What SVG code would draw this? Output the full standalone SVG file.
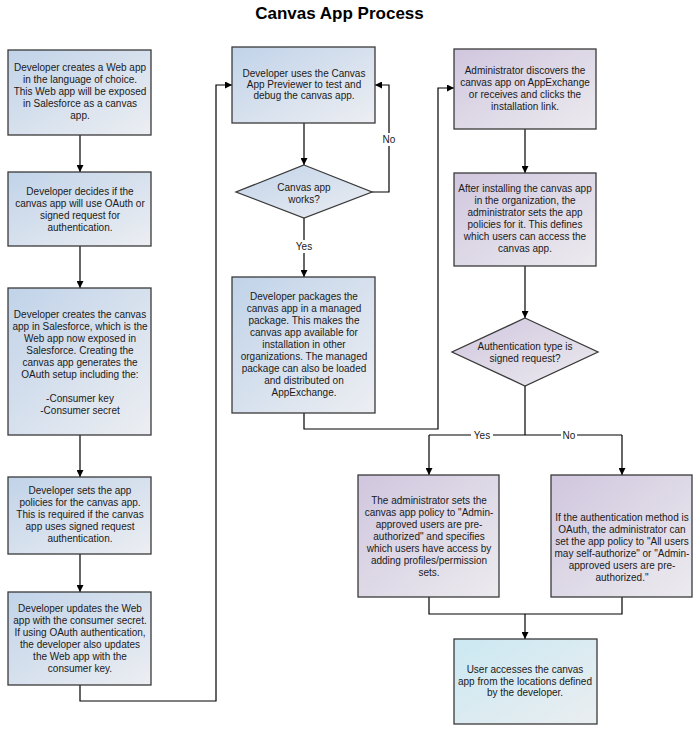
<svg xmlns="http://www.w3.org/2000/svg" width="700" height="733" viewBox="0 0 700 733">
<defs>
<linearGradient id="gBlue" x1="0" y1="0" x2="1" y2="1"><stop offset="0" stop-color="#c1d3e9"/><stop offset="1" stop-color="#eceef2"/></linearGradient>
<linearGradient id="gPurple" x1="0" y1="0" x2="1" y2="1"><stop offset="0" stop-color="#d0c6de"/><stop offset="1" stop-color="#ecebef"/></linearGradient>
<linearGradient id="gCyan" x1="0" y1="0" x2="1" y2="1"><stop offset="0" stop-color="#cbe8f2"/><stop offset="1" stop-color="#eaeef0"/></linearGradient>
<marker id="arr" viewBox="0 0 10 10" refX="10" refY="5" markerWidth="7" markerHeight="7" markerUnits="userSpaceOnUse" orient="auto"><path d="M0,0 L10,5 L0,10 Z" fill="#000"/></marker>
<style>
.b{stroke:#3a3a3a;stroke-width:1.3}
.blue{fill:url(#gBlue)}
.purple{fill:url(#gPurple)}
.cyan{fill:url(#gCyan)}
text{font-family:"Liberation Sans",Arial,sans-serif;font-size:10px;fill:#1a1a1a;text-anchor:middle}
.title{font-size:17px;font-weight:bold;fill:#000}
.c{fill:none;stroke:#000;stroke-width:1.2}
.lbl{fill:#fff}
</style>
</defs>
<rect width="700" height="733" fill="#fff"/>
<text class="title" x="339.5" y="19">Canvas App Process</text>

<g id="connectors">
<path class="c" d="M80,135 V172" marker-end="url(#arr)"/>
<path class="c" d="M80,246 V288" marker-end="url(#arr)"/>
<path class="c" d="M80,435 V477" marker-end="url(#arr)"/>
<path class="c" d="M80,554 V592" marker-end="url(#arr)"/>
<path class="c" d="M80,685 V701 H216 V85 H232" marker-end="url(#arr)"/>
<path class="c" d="M304,123 V165" marker-end="url(#arr)"/>
<path class="c" d="M372,192 H389 V85 H375" marker-end="url(#arr)"/>
<path class="c" d="M304,218 V277" marker-end="url(#arr)"/>
<path class="c" d="M304,413 V429 H438 V88 H454" marker-end="url(#arr)"/>
<path class="c" d="M525,129 V173" marker-end="url(#arr)"/>
<path class="c" d="M525,266 V318" marker-end="url(#arr)"/>
<path class="c" d="M525,386 V435"/>
<path class="c" d="M429,435 H622"/>
<path class="c" d="M429,435 V475" marker-end="url(#arr)"/>
<path class="c" d="M622,435 V475" marker-end="url(#arr)"/>
<path class="c" d="M429,597 V614 H622 V597"/>
<path class="c" d="M525,614 V639" marker-end="url(#arr)"/>
<rect class="lbl" x="381" y="133" width="16" height="13"/>
<text x="389" y="143">No</text>
<rect class="lbl" x="293" y="240" width="22" height="13"/>
<text x="304" y="250">Yes</text>
<rect class="lbl" x="471" y="429" width="22" height="12"/>
<text x="482" y="439">Yes</text>
<rect class="lbl" x="561" y="429" width="16" height="12"/>
<text x="569" y="439">No</text>
</g>

<g id="n1">
<rect class="b blue" x="8" y="50" width="143" height="85"/>
<text x="80" y="71"><tspan x="80">Developer creates a Web app</tspan><tspan x="80" dy="12">in the language of choice.</tspan><tspan x="80" dy="12">This Web app will be exposed</tspan><tspan x="80" dy="12">in Salesforce as a canvas</tspan><tspan x="80" dy="12">app.</tspan></text>
</g>
<g id="n2">
<rect class="b blue" x="8" y="172" width="143" height="74"/>
<text x="80" y="194.5"><tspan x="80">Developer decides if the</tspan><tspan x="80" dy="12">canvas app will use OAuth or</tspan><tspan x="80" dy="12">signed request for</tspan><tspan x="80" dy="12">authentication.</tspan></text>
</g>
<g id="n3">
<rect class="b blue" x="8" y="288" width="143" height="147"/>
<text x="80" y="317.7"><tspan x="80">Developer creates the canvas</tspan><tspan x="80" dy="12">app in Salesforce, which is the</tspan><tspan x="80" dy="12">Web app now exposed in</tspan><tspan x="80" dy="12">Salesforce. Creating the</tspan><tspan x="80" dy="12">canvas app generates the</tspan><tspan x="80" dy="12">OAuth setup including the:</tspan><tspan x="80" dy="24">-Consumer key</tspan><tspan x="80" dy="12">-Consumer secret</tspan></text>
</g>
<g id="n4">
<rect class="b blue" x="8" y="477" width="143" height="77"/>
<text x="80" y="494"><tspan x="80">Developer sets the app</tspan><tspan x="80" dy="12">policies for the canvas app.</tspan><tspan x="80" dy="12">This is required if the canvas</tspan><tspan x="80" dy="12">app uses signed request</tspan><tspan x="80" dy="12">authentication.</tspan></text>
</g>
<g id="n5">
<rect class="b blue" x="8" y="592" width="143" height="93"/>
<text x="80" y="612.3"><tspan x="80">Developer updates the Web</tspan><tspan x="80" dy="12">app with the consumer secret.</tspan><tspan x="80" dy="12">If using OAuth authentication,</tspan><tspan x="80" dy="12">the developer also updates</tspan><tspan x="80" dy="12">the Web app with the</tspan><tspan x="80" dy="12">consumer key.</tspan></text>
</g>
<g id="n6">
<rect class="b blue" x="232" y="47" width="143" height="76"/>
<text x="304" y="77"><tspan x="304">Developer uses the Canvas</tspan><tspan x="304" dy="11">App Previewer to test and</tspan><tspan x="304" dy="11">debug the canvas app.</tspan></text>
</g>
<g id="d1">
<polygon class="b blue" points="304,165 372,192 304,218 236,192"/>
<text x="304" y="190.5"><tspan x="304">Canvas app</tspan><tspan x="304" dy="12">works?</tspan></text>
</g>
<g id="n7">
<rect class="b blue" x="232" y="277" width="143" height="136"/>
<text x="304" y="300"><tspan x="304">Developer packages the</tspan><tspan x="304" dy="12">canvas app in a managed</tspan><tspan x="304" dy="12">package. This makes the</tspan><tspan x="304" dy="12">canvas app available for</tspan><tspan x="304" dy="12">installation in other</tspan><tspan x="304" dy="12">organizations. The managed</tspan><tspan x="304" dy="12">package can also be loaded</tspan><tspan x="304" dy="12">and distributed on</tspan><tspan x="304" dy="12">AppExchange.</tspan></text>
</g>
<g id="n8">
<rect class="b purple" x="454" y="49" width="142" height="80"/>
<text x="525" y="74"><tspan x="525">Administrator discovers the</tspan><tspan x="525" dy="12">canvas app on AppExchange</tspan><tspan x="525" dy="12">or receives and clicks the</tspan><tspan x="525" dy="12">installation link.</tspan></text>
</g>
<g id="n9">
<rect class="b purple" x="454" y="173" width="142" height="93"/>
<text x="525" y="192.3"><tspan x="525">After installing the canvas app</tspan><tspan x="525" dy="12">in the organization, the</tspan><tspan x="525" dy="12">administrator sets the app</tspan><tspan x="525" dy="12">policies for it. This defines</tspan><tspan x="525" dy="12">which users can access the</tspan><tspan x="525" dy="12">canvas app.</tspan></text>
</g>
<g id="d2">
<polygon class="b purple" points="525,318 598,352 525,386 452,352"/>
<text x="525" y="350"><tspan x="525">Authentication type is</tspan><tspan x="525" dy="12">signed request?</tspan></text>
</g>
<g id="n10">
<rect class="b purple" x="358" y="475" width="141" height="122"/>
<text x="429" y="503.5"><tspan x="429">The administrator sets the</tspan><tspan x="429" dy="12">canvas app policy to "Admin-</tspan><tspan x="429" dy="12">approved users are pre-</tspan><tspan x="429" dy="12">authorized" and specifies</tspan><tspan x="429" dy="12">which users have access by</tspan><tspan x="429" dy="12">adding profiles/permission</tspan><tspan x="429" dy="12">sets.</tspan></text>
</g>
<g id="n11">
<rect class="b purple" x="551" y="475" width="141" height="122"/>
<text x="622" y="521"><tspan x="622">If the authentication method is</tspan><tspan x="622" dy="12">OAuth, the administrator can</tspan><tspan x="622" dy="12">set the app policy to "All users</tspan><tspan x="622" dy="12">may self-authorize" or "Admin-</tspan><tspan x="622" dy="12">approved users are pre-</tspan><tspan x="622" dy="12">authorized."</tspan></text>
</g>
<g id="n12">
<rect class="b cyan" x="454" y="639" width="143" height="85"/>
<text x="525" y="673"><tspan x="525">User accesses the canvas</tspan><tspan x="525" dy="11.5">app from the locations defined</tspan><tspan x="525" dy="11.5">by the developer.</tspan></text>
</g>
</svg>
